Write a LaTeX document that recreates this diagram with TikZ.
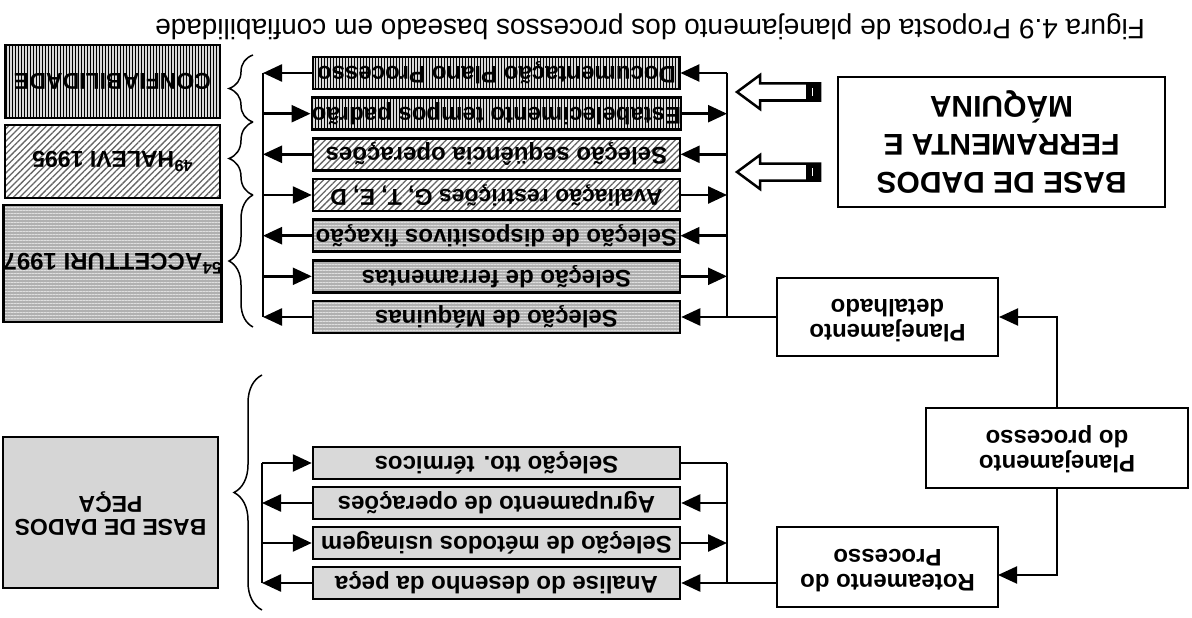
\documentclass[tikz,border=0pt]{standalone}
\usepackage{fontspec}
\setmainfont{Liberation Sans}
\usepackage{graphicx}
\usetikzlibrary{arrows.meta,patterns.meta,decorations.pathreplacing,calc}

\newcommand\ud[1]{\rotatebox[origin=c]{180}{#1}}

\begin{document}
\begin{tikzpicture}[x=1pt,y=-1pt,
  wbox/.style={draw=black, line width=2pt, fill=white, inner sep=0pt, align=center,
    font=\bfseries\fontsize{24}{25}\selectfont},
  rowbase/.style={draw=black, line width=2.5pt, inner sep=0pt, minimum width=367, minimum height=32,
    font=\bfseries\fontsize{24}{26}\selectfont},
  vbox/.style={rowbase, preaction={fill=gray!30}, pattern={Lines[angle=90,distance=3pt,line width=0.9pt]}, pattern color=black},
  dbox/.style={rowbase, preaction={fill=white}, pattern={Lines[angle=45,distance=4.5pt,line width=1.3pt]}, pattern color=gray!80!black},
  hbox/.style={rowbase, preaction={fill=gray!62}, pattern={Lines[angle=0,distance=3pt,line width=0.9pt]}, pattern color=gray!25},
  lbox/.style={rowbase, fill=gray!30},
  conn/.style={line width=2.5pt},
  arr/.style={line width=2.5pt, -{Triangle[length=19pt,width=17pt]}},
  brc/.style={line width=1.5pt, decorate, decoration={brace, amplitude=24pt}},
  hollow/.style={draw=black, line width=2.5pt, fill=white, line join=miter}
]
\useasboundingbox (0,0) rectangle (1192,618);

% title
\node[font=\fontsize{28}{30}\selectfont] (title) at (650,27) {\ud{Figura 4.9 Proposta de planejamento dos processos baseado em confiabilidade}};

% database box tools/machines
\node[wbox, minimum width=327, minimum height=130, font=\bfseries\fontsize{30}{38}\selectfont] (dbf) at (1001.5,142)
  {\ud{\begin{tabular}{@{}c@{}}BASE DE DADOS\\ FERRAMENTA E\\ MÁQUINA\end{tabular}}};

% planning boxes
\node[wbox, minimum width=221, minimum height=78] (det) at (887.5,317)
  {\ud{\begin{tabular}{@{}c@{}}Planejamento\\ detalhado\end{tabular}}};
\node[wbox, line width=2.5pt, minimum width=262, minimum height=80] (proc) at (1057,448)
  {\ud{\begin{tabular}{@{}c@{}}Planejamento\\ do processo\end{tabular}}};
\node[wbox, minimum width=221, minimum height=80] (rot) at (887.5,567)
  {\ud{\begin{tabular}{@{}c@{}}Roteamento do\\ Processo\end{tabular}}};

% upper activity rows
\node[vbox] (u1) at (496.5,73)    {\ud{Documentação Plano Processo}};
\node[vbox] (u2) at (496.5,113.7) {\ud{Estabelecimento tempos padrão}};
\node[dbox] (u3) at (496.5,154.3) {\ud{Seleção seqüência operações}};
\node[dbox, font=\bfseries\fontsize{23}{25}\selectfont\addfontfeature{Kerning=Off}] (u4) at (496.5,195) {\ud{Avaliação restrições G, T, E, D}};
\node[hbox] (u5) at (496.5,235.7) {\ud{Seleção de dispositivos fixação}};
\node[hbox] (u6) at (496.5,276.3) {\ud{Seleção de ferramentas}};
\node[hbox] (u7) at (496.5,317)   {\ud{Seleção de Máquinas}};

% lower activity rows
\node[lbox] (l1) at (496.5,463) {\ud{Seleção tto. térmicos}};
\node[lbox] (l2) at (496.5,503) {\ud{Agrupamento de operações}};
\node[lbox] (l3) at (496.5,543) {\ud{Seleção de métodos usinagem}};
\node[lbox] (l4) at (496.5,583) {\ud{Analise do desenho da peça}};

% left reference boxes
\node[vbox, minimum width=215, minimum height=73, font=\bfseries\fontsize{23}{26}\selectfont] (conf) at (112.5,81.5) {\ud{CONFIABILIDADE}};
\node[dbox, minimum width=215, minimum height=73, font=\bfseries\fontsize{23}{26}\selectfont] (hal) at (112.5,161.5) {\ud{\textsuperscript{49}HALEVI 1995}};
\node[hbox, minimum width=215, minimum height=117] (acc) at (112.5,263.5) {\ud{\textsuperscript{54}ACCETTURI 1997}};
\node[lbox, minimum width=215, minimum height=151, fill=gray!32, font=\bfseries\fontsize{23}{23}\selectfont] (peca) at (110.5,512.5)
  {\ud{\begin{tabular}{@{}c@{}}BASE DE DADOS\\ PEÇA\end{tabular}}};

% bus coordinates
\foreach \i/\y in {1/73,2/113.7,3/154.3,4/195,5/235.7,6/276.3,7/317}{
  \coordinate (ul\i) at (263,\y);
  \coordinate (ur\i) at (727,\y);
}
\foreach \i/\y in {1/463,2/503,3/543,4/583}{
  \coordinate (ll\i) at (262,\y);
  \coordinate (lr\i) at (727,\y);
}

% upper buses
\draw[conn] (ul1) -- (ul7);
\draw[conn] (ur1) -- (ur7) -- (det.west);
\draw[arr] (u1.west) -- (ul1);
\draw[arr] (ul2) -- (u2.west);
\draw[arr] (u3.west) -- (ul3);
\draw[arr] (ul4) -- (u4.west);
\draw[arr] (u5.west) -- (ul5);
\draw[arr] (ul6) -- (u6.west);
\draw[arr] (u7.west) -- (ul7);
\draw[arr] (ur1) -- (u1.east);
\draw[arr] (u2.east) -- (ur2);
\draw[arr] (ur3) -- (u3.east);
\draw[arr] (u4.east) -- (ur4);
\draw[arr] (ur5) -- (u5.east);
\draw[arr] (u6.east) -- (ur6);
\draw[arr] (ur7) -- (u7.east);

% lower buses
\draw[conn] (ll1) -- (ll4);
\draw[conn] (lr1) -- (lr4) -- (rot.west |- lr4);
\draw[arr] (ll1) -- (l1.west);
\draw[arr] (l2.west) -- (ll2);
\draw[arr] (ll3) -- (l3.west);
\draw[arr] (l4.west) -- (ll4);
\draw[conn] (l1.east) -- (lr1);
\draw[arr] (lr2) -- (l2.east);
\draw[arr] (l3.east) -- (lr3);
\draw[arr] (lr4) -- (l4.east);

% planning flow
\draw[arr, line width=2pt] (proc.north) |- (det.east);
\coordinate (rotin) at (998,575);
\draw[arr, line width=2pt] (proc.south) |- (rotin);

% braces
\draw[brc] (253,122) -- (253,55);
\draw[brc] (253,195) -- (253,122);
\draw[brc] (253,327) -- (253,195);
\draw[brc, decoration={brace, amplitude=28pt}] (262,610) -- (262,375);

% hollow arrows from database
\foreach \y in {92,172}{
  \draw[hollow] (737,\y) -- (760,\y-17) -- (760,\y-8.5) -- (820,\y-8.5) -- (820,\y+8.5) -- (760,\y+8.5) -- (760,\y+17) -- cycle;
  \fill[black] (806,\y-8.5) rectangle (820,\y+8.5);
  \draw[white, line width=1pt] (812,\y-4) -- (812,\y+4);
}
\end{tikzpicture}
\end{document}
